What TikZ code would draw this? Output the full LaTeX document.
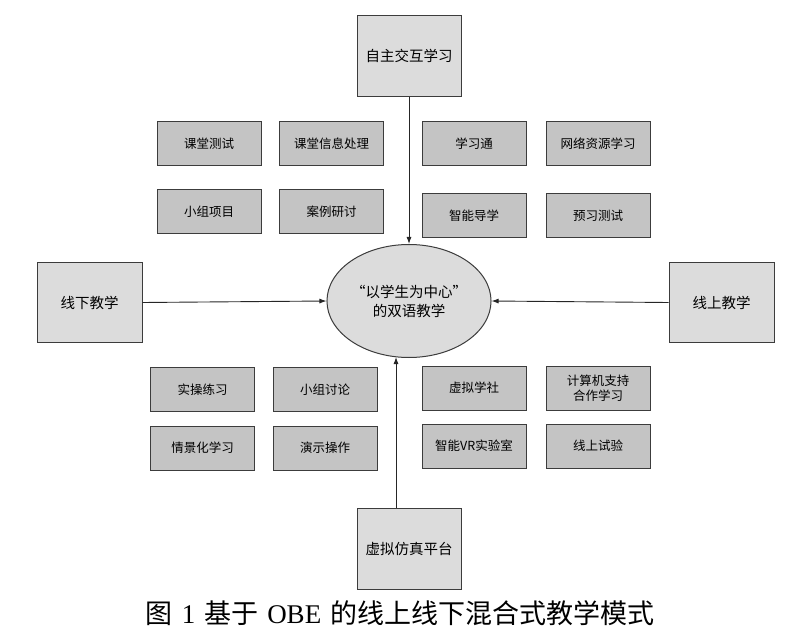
\documentclass[tikz,border=0pt]{standalone}
\usepackage{fontspec}
\setmainfont{Noto Sans CJK SC}
\newfontfamily\cjk{Noto Sans CJK SC}
\newfontfamily\lserif{Liberation Serif}
\usetikzlibrary{arrows.meta,shapes.geometric,calc}
\definecolor{bigfill}{HTML}{DCDCDC}
\definecolor{smallfill}{HTML}{C4C4C4}
\definecolor{edge}{HTML}{3C3C3C}
\tikzset{
  bigbox/.style={draw=edge, line width=1pt, fill=bigfill, minimum width=104pt, minimum height=81pt, inner sep=0pt, font=\cjk\fontsize{14.5}{17}\selectfont},
  sidebox/.style={bigbox, minimum width=105pt, minimum height=79pt},
  smallbox/.style={draw=edge, line width=1pt, fill=smallfill, minimum width=104pt, minimum height=44pt, inner sep=0pt, align=center, font=\cjk\fontsize{12.5}{15}\selectfont},
  hubnode/.style={ellipse, draw=edge, line width=1pt, fill=bigfill, minimum width=152pt, minimum height=113pt, inner sep=0pt, align=center, font=\cjk\fontsize{14.5}{19}\selectfont},
  arr/.style={draw=black!85, line width=0.9pt, -{Latex[length=7pt,width=5pt]}}
}
\begin{document}
\begin{tikzpicture}[x=1pt,y=-1pt]
\useasboundingbox (0,0) rectangle (800,636);
% big boxes
\node[bigbox] (top) at (409,56) {自主交互学习};
\node[bigbox] (bot) at (409,548.5) {虚拟仿真平台};
\node[sidebox] (left) at (89.5,302.5) {线下教学};
\node[sidebox] (right) at (721.5,302.5) {线上教学};
% hub
\node[hubnode] (hub) at (409,301) {“以学生为中心”\\的双语教学};
% small boxes top-left
\node[smallbox] (a1) at (209,143.5) {课堂测试};
\node[smallbox] (a2) at (331.5,143.5) {课堂信息处理};
\node[smallbox] (a3) at (209,212) {小组项目};
\node[smallbox] (a4) at (331.5,212) {案例研讨};
% top-right
\node[smallbox] (b1) at (474,143.5) {学习通};
\node[smallbox] (b2) at (598,143.5) {网络资源学习};
\node[smallbox] (b3) at (474,216) {智能导学};
\node[smallbox] (b4) at (598,216) {预习测试};
% bottom-left
\node[smallbox] (c1) at (202.5,389.5) {实操练习};
\node[smallbox] (c2) at (325,389.5) {小组讨论};
\node[smallbox] (c3) at (202.5,448) {情景化学习};
\node[smallbox] (c4) at (325,448) {演示操作};
% bottom-right
\node[smallbox] (d1) at (474,388) {虚拟学社};
\node[smallbox] (d2) at (598,388) {计算机支持\\合作学习};
\node[smallbox] (d3) at (474,446) {智能VR实验室};
\node[smallbox] (d4) at (598,446) {线上试验};
% arrows
\coordinate (bx) at (396,0);
\draw[arr] (top.south) -- (hub.north);
\draw[arr] (bot.north -| bx) -- ($(hub.south -| bx)+(0,-1)$);
\draw[arr] (left.east) -- (hub.west);
\draw[arr] (right.west) -- (hub.east);
% caption
\node[font=\cjk\fontsize{27}{32}\selectfont] (cap) at (400,613) {图\hspace{9pt}{\lserif 1}\hspace{9pt}基于\hspace{9pt}{\lserif OBE}\hspace{9pt}的线上线下混合式教学模式};
\end{tikzpicture}
\end{document}
